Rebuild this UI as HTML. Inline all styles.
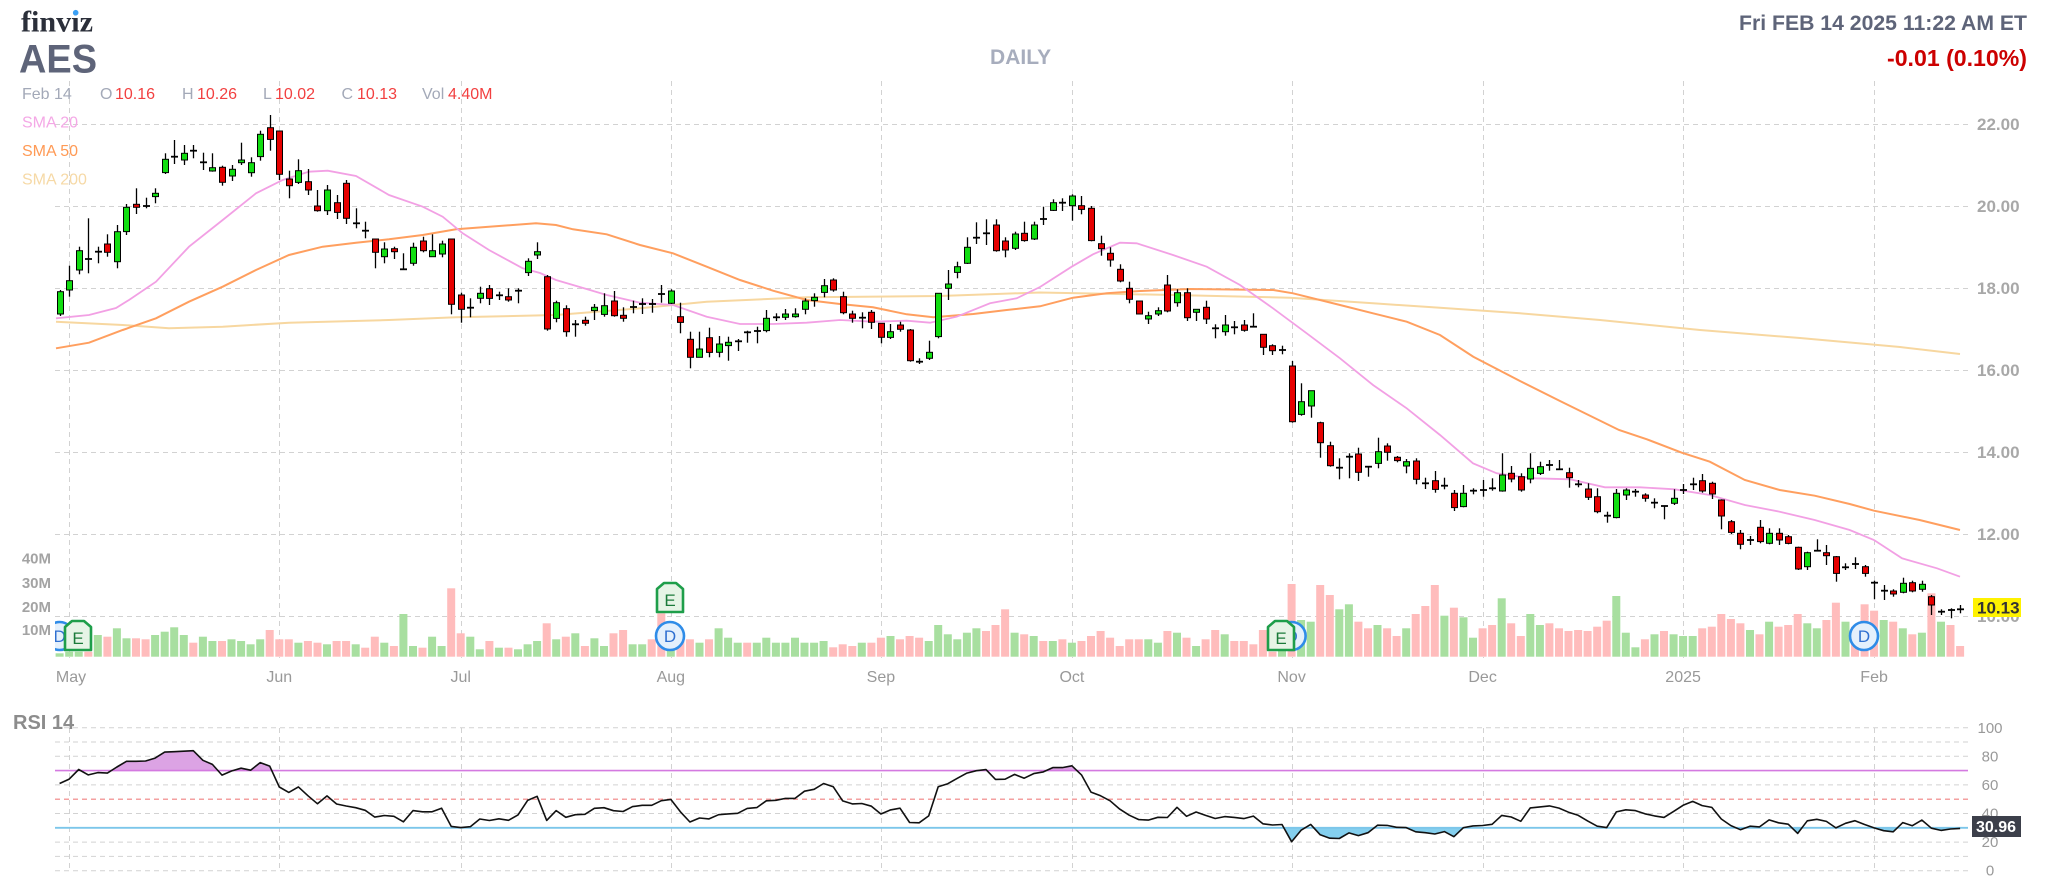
<!DOCTYPE html>
<html><head><meta charset="utf-8">
<style>
html,body{margin:0;padding:0;background:#fff;}
body{width:2048px;height:894px;overflow:hidden;}
svg{display:block;font-family:"Liberation Sans",Arial,sans-serif;}
</style></head><body>
<svg id="c" width="2048" height="894" viewBox="0 0 2048 894" xmlns="http://www.w3.org/2000/svg">
<defs>
<clipPath id="mainclip"><rect x="55" y="78" width="1915" height="582"/></clipPath>
<clipPath id="above70"><rect x="55" y="700" width="1915" height="70.6"/></clipPath>
<clipPath id="below30"><rect x="55" y="827.8" width="1915" height="60"/></clipPath>
</defs>
<g id="grid" fill="none"></g>
<g id="dyn"></g>
<g id="txt">
  <text x="21" y="31.5" font-family="Liberation Serif,serif" font-weight="bold" font-size="30" fill="#2b2f3a" textLength="72" lengthAdjust="spacingAndGlyphs">finviz</text>
  <circle cx="75.7" cy="12.7" r="2.8" fill="#3ba0f5"/>
  <text x="19" y="72.7" font-weight="bold" font-size="40" fill="#5e6479" textLength="78" lengthAdjust="spacingAndGlyphs">AES</text>

  <text x="2027" y="30" font-weight="bold" font-size="21" fill="#5e6479" text-anchor="end" textLength="288" lengthAdjust="spacingAndGlyphs">Fri FEB 14 2025 11:22 AM ET</text>
  <text x="2027" y="66" font-weight="bold" font-size="23" fill="#cc0000" text-anchor="end" textLength="140" lengthAdjust="spacingAndGlyphs">-0.01 (0.10%)</text>
  <text x="1020.6" y="64" font-weight="bold" font-size="21" fill="#a7adbd" text-anchor="middle">DAILY</text>

  <g font-size="16">
    <text x="22" y="99" fill="#a3a9b8">Feb 14</text>
    <text x="100" y="99" fill="#a3a9b8">O</text><text x="115" y="99" fill="#f24040">10.16</text>
    <text x="182" y="99" fill="#a3a9b8">H</text><text x="197" y="99" fill="#f24040">10.26</text>
    <text x="263" y="99" fill="#a3a9b8">L</text><text x="275" y="99" fill="#f24040">10.02</text>
    <text x="341.5" y="99" fill="#a3a9b8">C</text><text x="357" y="99" fill="#f24040">10.13</text>
    <text x="422" y="99" fill="#a3a9b8">Vol</text><text x="448" y="99" fill="#f24040">4.40M</text>
    <text x="22" y="127.5" fill="#f4a8e6">SMA 20</text>
    <text x="22" y="156" fill="#ff9a55">SMA 50</text>
    <text x="22" y="184.5" fill="#f6d9a6">SMA 200</text>
  </g>

  <g font-size="17" font-weight="bold" fill="#a8a8a8">
    <text x="1977" y="130">22.00</text>
    <text x="1977" y="212">20.00</text>
    <text x="1977" y="294">18.00</text>
    <text x="1977" y="376">16.00</text>
    <text x="1977" y="458">14.00</text>
    <text x="1977" y="540">12.00</text>
    <text x="1977" y="622">10.00</text>
  </g>
  <rect x="1973" y="598" width="48" height="19" fill="#fff200"/>
  <text x="1977" y="613.5" font-size="17" font-weight="bold" fill="#333">10.13</text>

  <g font-size="15" font-weight="bold" fill="#a3a3a3" text-anchor="end">
    <text x="51" y="563.5">40M</text>
    <text x="51" y="588">30M</text>
    <text x="51" y="612">20M</text>
    <text x="51" y="635">10M</text>
  </g>

  <g font-size="16" fill="#999" text-anchor="middle">
    <text x="71" y="682">May</text>
    <text x="279.3" y="682">Jun</text>
    <text x="460.7" y="682">Jul</text>
    <text x="670.8" y="682">Aug</text>
    <text x="880.9" y="682">Sep</text>
    <text x="1071.9" y="682">Oct</text>
    <text x="1291.6" y="682">Nov</text>
    <text x="1482.6" y="682">Dec</text>
    <text x="1683.1" y="682">2025</text>
    <text x="1874.1" y="682">Feb</text>
  </g>

  <text x="13" y="729" font-size="20" font-weight="bold" fill="#8c8c8c">RSI 14</text>
  <g font-size="15" fill="#999" text-anchor="middle">
    <text x="1990" y="733">100</text>
    <text x="1990" y="761.5">80</text>
    <text x="1990" y="790">60</text>
    <text x="1990" y="818.5">40</text>
    <text x="1990" y="847">20</text>
    <text x="1990" y="875.5">0</text>
  </g>
  <rect x="1972" y="816" width="49" height="21" fill="#3c3f4a"/>
  <text x="1976" y="832" font-size="16" font-weight="bold" fill="#ffffff">30.96</text>
</g>
</svg>
<script>
(function(){
var X=function(i){return 59.6+9.55*i;};
function parse(str,y0,start){return str.trim().split(/\s+/).map(function(t,k){var v=t.slice(1).split(',').map(function(z){return y0+Number(z)/3;});return {i:start+k,c:t[0],a:v[0],b:v[1],h:v[2],l:v[3]};});}
function pv(str,y0,start){return str.trim().split(/\s+/).map(function(t,k){return {i:start+k,c:t[0],y:y0+Number(t.slice(1))/3};});}

var A="g575,642,570,648 g542,570,497,590 g452,510,440,523 d477,477,355,520 d455,455,440,490 r432,457,403,470 g395,485,375,505 g322,395,312,405 r313,322,265,342 d318,318,293,325 g280,290,265,310 g178,218,160,222 d170,170,120,192 g160,180,135,195 d152,152,135,175 d187,187,158,210 g203,213,160,215 r202,247,197,257 g208,228,195,243 g180,188,128,195 g188,218,172,230 g103,170,92,182 r83,118,45,152 r93,223,93,240 r237,257,212,295 g212,247,178,252 r245,270,207,285 r318,332,270,335 g270,332,255,345 r308,337,285,357 r250,355,240,372 d370,370,325,385 d392,392,365,415 r417,457,417,505 g447,470,427,490 r446,455,440,477 d508,508,460,510 g442,490,428,497 r423,452,410,457 g452,470,403,470 g432,462,422,472 r417,613,417,643 r585,628,578,668 d623,623,595,652 g580,595,560,610 r566,595,555,615 d586,586,575,600 r590,600,565,605 d572,572,565,610 g484,518,475,528 g455,465,427,477";
var B="r290,447,285,452 g368,415,362,427 r386,455,376,470 d433,433,420,470 r421,430,410,437 g382,392,372,420 g377,403,340,410 r363,407,333,410 r406,415,382,425 d381,381,362,400 d372,372,355,402 d372,372,357,398 d342,342,315,368 g333,370,328,372 r410,427,368,460 r478,532,455,565 g507,532,455,532 r473,517,443,532 g492,517,468,532 g487,497,470,542 d484,484,477,513 d457,457,452,488 d453,453,440,490 g415,452,390,457 d412,412,400,423 g402,412,387,420 g402,410,385,413 g363,388,355,403 g352,362,340,380 g317,337,297,352 r300,330,295,335 r350,398,335,403 r402,415,392,428 d413,413,397,445 r397,427,390,447 r430,472,430,490 g455,472,432,477 r435,448,425,455 r450,542,447,545 d545,545,535,552 g517,535,482,540 g340,470,340,475 g312,325,270,360 g260,277,245,295 g202,250,172,252 d173,173,127,192 d160,160,118,195 r135,212,118,215 r183,210,172,232 g162,205,155,210 r160,182,125,185 g135,177,125,180";
var C="d132,132,95,150 g83,106,73,108 d83,83,70,108 g63,92,58,137 r92,103,63,118 r100,197,93,199 r206,221,182,242 r235,255,217,275 r283,318,268,322 r340,373,320,385 r378,417,377,418 g422,432,410,447 g407,417,397,423 r330,408,300,412 g353,383,343,395 r353,428,340,438 g403,412,402,438 r397,432,377,447 d460,460,448,490 g450,470,420,482 d457,457,438,478 r450,466,435,470 d455,455,415,455 r478,517,478,540 r512,527,508,540 d525,525,512,538 r573,740,558,743 g680,718,625,722 g647,693,647,728 r743,803,740,848 r812,872,800,875 d878,878,850,913 d845,845,835,910 r837,892,818,918 d875,875,875,905 g830,865,788,880 r813,832,805,857 r847,857,843,862 g860,873,852,895 r858,913,850,928 d925,925,908,942 r917,943,888,953 d932,932,908,943 r955,998,945,1008 g955,995,930,997 d947,947,940,958 d945,945,915,965 d940,940,910,947";
var D="g135,183,70,185 r130,147,108,157 r140,180,130,185 g115,147,70,160 g110,130,95,135 d105,105,90,122 d118,118,90,120 r128,143,113,173 d163,163,150,172 r177,202,160,210 r200,245,175,250 d257,257,245,278 g190,263,177,265 g180,195,175,210 d185,185,177,200 r195,205,190,215 d218,218,205,235 d228,228,228,268 g205,220,178,225 d180,180,162,192 d163,163,143,180 r152,183,132,188 r160,192,155,207 r210,258,208,298 r275,307,270,312 r310,343,300,358 d330,330,318,345 r292,335,270,340 g310,340,295,343 r310,330,295,345 r320,340,315,343 r352,417,350,420 g368,410,365,420 d362,362,328,362 r368,377,345,405 r380,430,378,455 d412,412,400,420 d402,402,382,417 r410,430,405,440 d458,458,452,508 d482,482,465,510 r483,492,478,500 g460,487,443,490 r458,483,452,487 g463,478,452,485 r500,525,495,555 d545,545,538,555 d540,540,535,565 d538,538,525,550";
var cs=[].concat(parse(A,100,0),parse(B,180,51),parse(C,175,103),parse(D,430,151));

var V1="g340 g335 g335 r335 g285 r290 g265 g295 r295 r298 g285 g275 g262 g285 r308 g290 g303 r303 g298 g303 g313 g298 r270 r298 r298 g308 r303 r308 g313 r303 r303 g313 r323 r290 g308 r318 g222 g318 r323 g290 g318 r145 r280 g290 g328 r303 g323 r323 g328 g313 g303 r250 g298 r290 g280 r318 g295 g318 r280 r270 g313 g313 r298";
var V2="r160 g250 r228 r238 g248 r238 g205 g233 g248 r248 g248 g233 g248 g248 g233 g248 g248 g243 r262 r253 r258 g248 r248 r233 g228 r238 r228 r233 g243 g195 g223 g238 g218 g205 r213 r195 r148 g218 r223 g228 r243 g243 r238 g248 r243 r228 r213 r233 r258 r238 r238 g238 g248 r213 g218 r233 g258 r238 r210 g223 r243 r243 r253 r210 r275 g260 r72 g180 g185 r75 r105 g148 g133";
var V3="r185 r205 g195 r205 r228 g205 r162 r138 r75 g167 r143 g172 g233 r205 r195 g115 r190 r228 g162 g195 r190 r205 r213 r210 r213 r200 r182 g108 g218 g262 r238 g223 r213 g223 g228 g228 r205 r200 r162 r177 r190 g210 r223 g185 r200 r195 r162 g190 g205 r180 r128 g185 r200 r133 r152 g180 r185 g205 r223 g218 r100 g185 r195 r258";
var vs=[].concat(pv(V1,540,0),pv(V2,560,63),pv(V3,560,136));

var sma20=[[56,318.3],[89,315],[116,308],[129,300],[156,281.7],[189,246.7],[222.7,220],[256,193.3],[282.7,180],[309,171.7],[327.7,170.7],[356,176],[389,195],[422.7,206.7],[442.7,216.7],[462.7,233.3],[489,250],[522.7,268.3],[540,273],[556,280],[573,285],[606.7,295],[640,302.7],[673,305],[706.7,316.7],[740,324],[773,324],[806.7,322.7],[840,320],[873,321.7],[906.7,320.7],[930,322.7],[956.7,316.7],[990,303.3],[1016.7,298.3],[1040,287],[1071.7,266.7],[1093,254.3],[1120,242.7],[1136.7,243.3],[1173,255],[1206.7,266.7],[1240,285],[1273,308.3],[1306.7,333.3],[1340,358.3],[1373,385],[1406.7,408.3],[1440,435],[1473,463.3],[1496.7,473.3],[1520,476.7],[1535,478.3],[1570,479.3],[1604.9,487.3],[1640,487.3],[1674.8,489.3],[1709.8,495],[1744.8,505],[1779.7,511.7],[1814.7,520],[1849.7,530],[1874,540],[1902,558.3],[1937,568.3],[1960,576.7]];
var sma50=[[56,348.3],[89,342.7],[122.7,330],[156,318.3],[189,301.7],[222.7,286.7],[256,270],[289,255],[322.7,246.7],[356,242.7],[389,239.3],[422.7,235],[456,229.3],[489,226.7],[536,223.3],[556,225],[573,229.3],[606.7,234.3],[640,245],[673,253.3],[706.7,266.7],[740,280],[773,290.7],[806.7,300],[840,304],[873,307.3],[906.7,314.3],[933.3,317.3],[973.3,314],[1006.7,310],[1040,306.3],[1073,297.7],[1106.7,293.3],[1140,291],[1190,289],[1273.3,290],[1293,293.3],[1340,305],[1373,313.3],[1406.7,321.7],[1440,335],[1473.3,356.7],[1520,381],[1560,401],[1619,430],[1646.9,439.3],[1681.8,452.7],[1709.8,461.7],[1744.8,480],[1779.7,490],[1814.7,495.7],[1849.7,504],[1874,510.7],[1919.6,520],[1960,530]];
var sma200=[[56,321.7],[122.7,325],[169,328.3],[222.7,326.7],[289,322.7],[389,320],[456,317.3],[556,315],[640,308.3],[706.7,301.7],[806.7,297.3],[940,296],[1040,292.5],[1173,295],[1290,297.7],[1373,303.3],[1440,307.7],[1520,313.3],[1600,320],[1700,330],[1800,338],[1900,347],[1960,354]];

function f(n){return (Math.round(n*10)/10).toString();}
function pl(p){return p.map(function(q){return f(q[0])+','+f(q[1]);}).join(' ');}

// grid
var g='';
var dash='stroke="#d2d2d2" stroke-width="1" stroke-dasharray="5,4"';
[124,206,288,370,452,534,616].forEach(function(y){g+='<line x1="55" y1="'+(y+0.5)+'" x2="1968" y2="'+(y+0.5)+'" '+dash+'/>';});
[1,23,42,64,86,106,129,149,170,190].forEach(function(i){var x=Math.round(X(i))+0.5;
  g+='<line x1="'+x+'" y1="81" x2="'+x+'" y2="658" '+dash+'/>';
  g+='<line x1="'+x+'" y1="728" x2="'+x+'" y2="871" '+dash+'/>';});
[100,90,80,60,40,20,10,0].forEach(function(v){var y=870.7-1.43*v;g+='<line x1="55" y1="'+f(y)+'" x2="1968" y2="'+f(y)+'" '+dash+'/>';});
document.getElementById('grid').innerHTML=g;

var o='<g clip-path="url(#mainclip)">';
// volume
vs.forEach(function(v){var x=X(v.i);o+='<rect x="'+f(x-4)+'" y="'+f(v.y)+'" width="8" height="'+f(656.7-v.y)+'" fill="'+(v.c=='g'?'#a8dfa0':'#ffbcbc')+'"/>';});
// SMAs
o+='<polyline points="'+pl(sma200)+'" fill="none" stroke="#f7d7a0" stroke-width="2"/>';
o+='<polyline points="'+pl(sma50)+'" fill="none" stroke="#ff9f5f" stroke-width="2"/>';
o+='<polyline points="'+pl(sma20)+'" fill="none" stroke="#f2a0e4" stroke-width="1.8"/>';
// candles
cs.forEach(function(c){var x=Math.round(X(c.i))+0.5;
  o+='<line x1="'+x+'" y1="'+f(c.h)+'" x2="'+x+'" y2="'+f(c.l)+'" stroke="#000" stroke-width="1.3"/>';
  if(c.c=='d'){o+='<line x1="'+(x-3.5)+'" y1="'+f(c.a)+'" x2="'+(x+3.5)+'" y2="'+f(c.a)+'" stroke="#000" stroke-width="1.8"/>';}
  else{var h=Math.max(c.b-c.a,1.5);o+='<rect x="'+(x-3)+'" y="'+f(c.a)+'" width="6" height="'+f(h)+'" fill="'+(c.c=='g'?'#11dd11':'#e60000')+'" stroke="#000" stroke-width="1"/>';}
});
// markers
function Dm(cx,cy){return '<circle cx="'+cx+'" cy="'+cy+'" r="14" fill="#e4f0fc" stroke="#2f8ce8" stroke-width="2.6"/><text x="'+cx+'" y="'+(cy+6)+'" font-size="17" fill="#2f6fd0" text-anchor="middle">D</text>';}
function Em(cx,top){return '<path d="M'+(cx-13)+','+(top+6)+' L'+(cx-6)+','+top+' L'+(cx+6)+','+top+' L'+(cx+13)+','+(top+6)+' L'+(cx+13)+','+(top+29)+' L'+(cx-13)+','+(top+29)+' Z" fill="#e6f4e6" stroke="#1e9e4a" stroke-width="2.6" stroke-linejoin="round"/><text x="'+cx+'" y="'+(top+23)+'" font-size="17" fill="#1b7a3a" text-anchor="middle">E</text>';}
o+=Dm(59.6,636)+Em(78,621);
o+=Dm(670,636)+Em(670,583);
o+=Dm(1291.6,636)+Em(1281,621);
o+=Dm(1864,636);
o+='</g>';

// RSI
var ag=6.1,al=3.9,prev=null,pts=[];
cs.forEach(function(c){var cl=(c.c=='r')?c.b:c.a;
  if(prev!==null){var ch=prev-cl;ag=(ag*13+Math.max(ch,0))/14;al=(al*13+Math.max(-ch,0))/14;}
  prev=cl;var r=100-100/(1+ag/al);pts.push([X(c.i),870.7-1.43*r]);});
var lp=pl(pts);
var x0=f(pts[0][0]),x1=f(pts[pts.length-1][0]);
o+='<path d="M'+x0+',770.6 L'+lp.split(' ').join(' L')+' L'+x1+',770.6 Z" fill="#dca3e4" clip-path="url(#above70)"/>';
o+='<path d="M'+x0+',827.8 L'+lp.split(' ').join(' L')+' L'+x1+',827.8 Z" fill="#84cfee" clip-path="url(#below30)"/>';
o+='<line x1="55" y1="770.6" x2="1968" y2="770.6" stroke="#d47ae0" stroke-width="1.6"/>';
o+='<line x1="55" y1="799.2" x2="1968" y2="799.2" stroke="#f08080" stroke-width="1.2" stroke-dasharray="5,4"/>';
o+='<line x1="55" y1="827.8" x2="1968" y2="827.8" stroke="#7cc6ea" stroke-width="1.8"/>';
o+='<polyline points="'+lp+'" fill="none" stroke="#111" stroke-width="1.6" stroke-linejoin="round"/>';
document.getElementById('dyn').innerHTML=o;
})();
</script>
</body></html>
